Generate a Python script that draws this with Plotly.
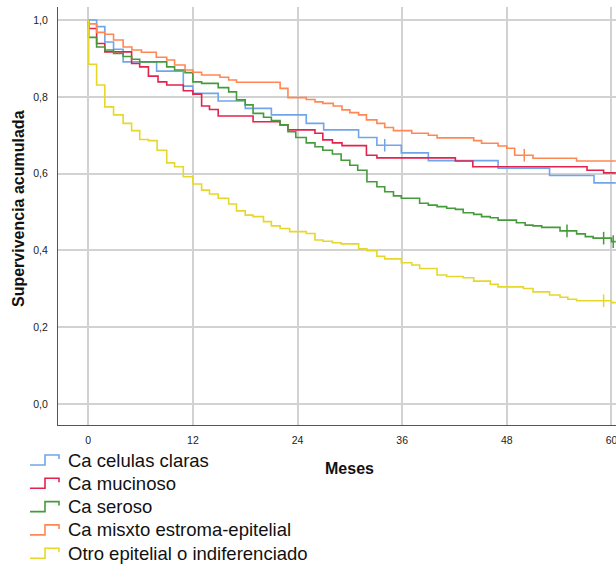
import plotly.graph_objects as go

# ---- data ----
names = ["Ca celulas claras", "Ca mucinoso", "Ca seroso",
         "Ca misxto estroma-epitelial", "Otro epitelial o indiferenciado"]
colors = ["#6fa6ea", "#e3234d", "#459a3b", "#ff8753", "#e6d82a"]

blue_t = [0, 0.96, 1.9, 2.9, 4.0, 7.84, 10.9, 12.0, 14.9, 18.0, 21.0, 25.0, 27.0,
          31.0, 33.1, 35.9, 39.0, 47.0, 52.9, 58.0, 60.5]
blue_s = [1.0, 0.983, 0.943, 0.924, 0.891, 0.867, 0.828, 0.809, 0.789, 0.770, 0.753,
          0.731, 0.714, 0.694, 0.674, 0.654, 0.634, 0.614, 0.595, 0.576, 0.576]

red_t = [0, 0.05, 0.96, 1.9, 4.97, 5.9, 6.9, 8.0, 9.0, 10.9, 12.0, 13.0, 13.9, 14.9,
         18.9, 22.0, 22.9, 26.0, 26.9, 28.0, 29.1, 31.9, 33.1, 42.1, 44.1, 57.2, 59.1, 60.5]
red_s = [1.0, 0.978, 0.939, 0.917, 0.887, 0.878, 0.854, 0.839, 0.831, 0.816, 0.807,
         0.776, 0.767, 0.750, 0.735, 0.727, 0.714, 0.705, 0.688, 0.680, 0.673, 0.648,
         0.641, 0.633, 0.618, 0.609, 0.602, 0.602]

green_t = [0, 0.05, 0.96, 1.9, 2.9, 4.0, 4.97, 5.9, 9.0, 9.9, 11.1, 12.0, 13.0, 14.9,
           16.1, 17.0, 18.0, 18.9, 20.1, 21.0, 22.0, 22.9, 23.8, 25.0, 26.0, 26.9, 28.0,
           29.0, 30.0, 30.9, 31.96, 33.1, 34.0, 35.0, 35.9, 38.0, 39.0, 40.0, 41.1, 42.1,
           43.0, 44.2, 45.1, 46.1, 47.0, 49.1, 50.1, 51.0, 52.0, 54.1, 56.0, 57.0, 57.9,
           60.0, 60.5]
green_s = [1.0, 0.955, 0.930, 0.922, 0.913, 0.905, 0.898, 0.891, 0.878, 0.870, 0.863,
           0.839, 0.835, 0.824, 0.813, 0.792, 0.779, 0.757, 0.747, 0.738, 0.727, 0.709,
           0.694, 0.680, 0.670, 0.661, 0.651, 0.635, 0.622, 0.609, 0.579, 0.566, 0.553,
           0.542, 0.536, 0.523, 0.518, 0.514, 0.510, 0.507, 0.498, 0.494, 0.488, 0.485,
           0.479, 0.472, 0.466, 0.464, 0.460, 0.451, 0.443, 0.436, 0.432, 0.423, 0.423]

orange_t = [0, 0.05, 0.96, 1.9, 2.9, 4.0, 5.0, 6.1, 7.8, 9.0, 9.9, 11.1, 12.0, 13.0,
            15.1, 16.1, 17.0, 22.0, 22.9, 25.0, 26.0, 26.9, 28.1, 29.1, 30.0, 31.0,
            31.9, 33.1, 34.0, 35.0, 37.1, 39.0, 40.0, 44.2, 45.1, 47.0, 48.0, 48.9,
            51.0, 56.0, 60.5]
orange_s = [1.0, 0.99, 0.968, 0.963, 0.948, 0.930, 0.922, 0.916, 0.903, 0.896, 0.883,
            0.870, 0.864, 0.857, 0.851, 0.844, 0.838, 0.822, 0.798, 0.793, 0.787, 0.783,
            0.776, 0.766, 0.759, 0.753, 0.740, 0.731, 0.720, 0.712, 0.705, 0.700, 0.693,
            0.686, 0.679, 0.672, 0.666, 0.648, 0.640, 0.633, 0.633]

yellow_t = [0, 0.05, 0.96, 1.9, 2.9, 4.0, 4.97, 5.9, 6.9, 7.9, 9.0, 9.9, 10.9, 12.0,
            13.0, 13.9, 14.9, 16.1, 17.0, 18.0, 18.9, 20.1, 21.0, 22.0, 23.1, 25.0,
            26.0, 26.9, 28.0, 29.0, 31.0, 31.96, 33.1, 34.0, 35.9, 37.1, 38.0, 40.0,
            41.1, 43.0, 44.2, 46.1, 47.0, 49.9, 51.0, 52.9, 54.1, 55.0, 56.0, 60.0, 60.5]
yellow_s = [1.0, 0.885, 0.831, 0.774, 0.753, 0.731, 0.712, 0.689, 0.686, 0.661, 0.628,
            0.618, 0.592, 0.573, 0.557, 0.547, 0.536, 0.521, 0.503, 0.492, 0.488, 0.475,
            0.464, 0.457, 0.449, 0.444, 0.427, 0.424, 0.420, 0.417, 0.404, 0.399, 0.385,
            0.378, 0.368, 0.362, 0.353, 0.336, 0.332, 0.329, 0.320, 0.312, 0.305, 0.301,
            0.292, 0.284, 0.278, 0.273, 0.269, 0.264, 0.264]

# censored observations
blue_cens_t, blue_cens_s = [34.0], [0.674]
red_cens_t, red_cens_s = [], []
green_cens_t, green_cens_s = [54.9, 59.1, 60.2], [0.451, 0.432, 0.423]
orange_cens_t, orange_cens_s = [50.0], [0.648]
yellow_cens_t, yellow_cens_s = [59.1], [0.269]

x_ticks = [0, 12, 24, 36, 48, 60]
y_ticks = [0.0, 0.2, 0.4, 0.6, 0.8, 1.0]

series = [
    (blue_t, blue_s, blue_cens_t, blue_cens_s),
    (red_t, red_s, red_cens_t, red_cens_s),
    (green_t, green_s, green_cens_t, green_cens_s),
    (orange_t, orange_s, orange_cens_t, orange_cens_s),
    (yellow_t, yellow_s, yellow_cens_t, yellow_cens_s),
]

FONT = "Arial, Liberation Sans, sans-serif"

fig = go.Figure()
for (t, s, ct, cs), name, col in zip(series, names, colors):
    fig.add_trace(go.Scatter(x=t, y=s, mode="lines", name=name, showlegend=False,
                             line=dict(color=col, width=1.6, shape="hv")))
for (t, s, ct, cs), name, col in zip(series, names, colors):
    if ct:
        fig.add_trace(go.Scatter(x=ct, y=cs, mode="markers", showlegend=False,
                                 marker=dict(symbol="line-ns-open", size=9, color=col,
                                             line=dict(color=col, width=1.5))))

W, H = 616, 567
L, R, T, B = 58, 0, 7, 142
pw, ph = W - L - R, H - T - B


def px(xp):
    return (xp - L) / pw


def py(yp):
    return (H - B - yp) / ph


fig.update_layout(
    width=W, height=H,
    margin=dict(l=L, r=R, t=T, b=B, autoexpand=False),
    paper_bgcolor="white", plot_bgcolor="white",
    separators=", ",
    font=dict(family=FONT, color="#222"),
    showlegend=False,
)
fig.update_xaxes(range=[-3.47, 60.52], tickvals=x_ticks, tickformat="d",
                 showgrid=True, gridcolor="#d2d2d2", gridwidth=1.5,
                 zeroline=False, showline=True, linecolor="#555", linewidth=1,
                 ticks="", tickfont=dict(size=10.5, color="#222"),
                 ticklabelstandoff=5, ticklabeloverflow="allow", automargin=False)
fig.update_yaxes(range=[-0.0547, 1.034], tickvals=y_ticks, tickformat=".1f",
                 showgrid=True, gridcolor="#d2d2d2", gridwidth=1.5,
                 zeroline=False, showline=True, linecolor="#555", linewidth=1,
                 ticks="", tickfont=dict(size=10.5, color="#222"),
                 ticklabelstandoff=7, automargin=False)

fig.add_annotation(xref="paper", yref="paper", x=px(349.5), y=py(469),
                   xanchor="center", yanchor="middle",
                   text="<b>Meses</b>", showarrow=False,
                   font=dict(size=16, color="#111", family=FONT))
fig.add_annotation(xref="paper", yref="paper", x=px(18), y=py(209),
                   xanchor="center", yanchor="middle",
                   text="<b>Supervivencia acumulada</b>", showarrow=False, textangle=-90,
                   font=dict(size=16, color="#111", family=FONT))

# legend drawn below the plot: step-shaped keys + labels
row0, gap = 460, 23.3
for i, (name, col) in enumerate(zip(names, colors)):
    yc = row0 + gap * i
    path = "M {:.4f},{:.4f} L {:.4f},{:.4f} L {:.4f},{:.4f} L {:.4f},{:.4f} L {:.4f},{:.4f}".format(
        px(30), py(yc + 5), px(45), py(yc + 5), px(45), py(yc - 5),
        px(59), py(yc - 5), px(59), py(yc - 1))
    fig.add_shape(type="path", path=path, xref="paper", yref="paper",
                  line=dict(color=col, width=1.6))
    fig.add_annotation(xref="paper", yref="paper", x=px(66), y=py(yc),
                       xanchor="left", yanchor="middle", text=name, showarrow=False,
                       font=dict(size=18.5, color="#111", family=FONT))

fig.write_html("out.html", config={"displayModeBar": False},
               post_script="document.body.style.margin='0';document.body.style.overflow='hidden';")
